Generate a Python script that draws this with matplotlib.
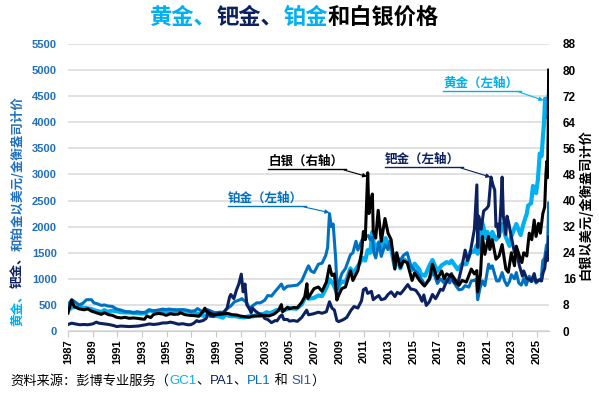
import matplotlib
matplotlib.use('Agg')
import matplotlib.pyplot as plt
from matplotlib.transforms import IdentityTransform
from matplotlib.lines import Line2D
import numpy as np

plt.rcParams['font.family'] = ['Liberation Sans', 'Noto Sans CJK SC', 'DejaVu Sans']

#%% data
gold_t = [1987.0, 1987.3, 1987.9, 1988.2, 1988.5, 1988.9, 1989.3, 1989.7, 1989.95, 1990.2, 1990.6, 1990.9,
          1991.3, 1991.7, 1992.0, 1992.5, 1992.9, 1993.3, 1993.6, 1993.9, 1994.3, 1994.7, 1995.0, 1995.5,
          1996.0, 1996.3, 1996.8, 1997.2, 1997.6, 1997.95, 1998.3, 1998.7, 1999.2, 1999.55, 1999.8, 2000.1,
          2000.5, 2000.9, 2001.3, 2001.7, 2002.0, 2002.4, 2002.9, 2003.1, 2003.4, 2003.9, 2004.3, 2004.5,
          2004.95, 2005.5, 2005.95, 2006.35, 2006.5, 2006.9, 2007.3, 2007.6, 2007.95, 2008.2, 2008.5, 2008.8,
          2009.0, 2009.2, 2009.5, 2009.9, 2010.1, 2010.5, 2010.9, 2011.1, 2011.3, 2011.5, 2011.68, 2011.8,
          2011.95, 2012.2, 2012.4, 2012.75, 2012.95, 2013.2, 2013.5, 2013.7, 2013.95, 2014.2, 2014.5, 2014.9,
          2015.1, 2015.5, 2015.6, 2015.95, 2016.3, 2016.55, 2016.95, 2017.3, 2017.7, 2017.95, 2018.1, 2018.6,
          2018.95, 2019.3, 2019.6, 2019.95, 2020.15, 2020.22, 2020.5, 2020.6, 2020.9, 2021.0, 2021.2, 2021.4,
          2021.7, 2021.95, 2022.2, 2022.5, 2022.8, 2022.95, 2023.35, 2023.7, 2023.95, 2024.2, 2024.3, 2024.55,
          2024.7, 2024.95, 2025.1, 2025.25, 2025.4, 2025.5, 2025.6, 2025.68, 2025.75, 2025.85, 2025.97]
gold_v = [405, 450, 480, 445, 440, 420, 385, 365, 400, 370, 390, 380,
          360, 355, 355, 345, 335, 340, 400, 375, 385, 390, 380, 385,
          400, 395, 380, 350, 325, 290, 300, 290, 285, 255, 320, 285,
          285, 270, 260, 285, 280, 315, 330, 360, 340, 400, 410, 395,
          440, 425, 510, 700, 620, 630, 680, 670, 830, 990, 900, 740,
          880, 950, 930, 1200, 1100, 1240, 1400, 1350, 1550, 1500, 1900, 1650,
          1580, 1700, 1570, 1780, 1660, 1580, 1220, 1400, 1200, 1380, 1320, 1170,
          1290, 1170, 1090, 1060, 1250, 1360, 1150, 1260, 1320, 1300, 1350, 1180,
          1280, 1280, 1510, 1520, 1650, 1480, 1780, 2070, 1780, 1900, 1700, 1900,
          1750, 1830, 2050, 1800, 1630, 1820, 2050, 1840, 2070, 2250, 2400, 2450,
          2780, 2640, 2900, 3400, 3350, 3700, 4000, 4450, 4100, 4250, 4500]

plat_t = [1987.0, 1987.3, 1987.5, 1987.9, 1988.2, 1988.5, 1988.9, 1989.1, 1989.4, 1989.7, 1989.95, 1990.2,
          1990.6, 1990.95, 1991.3, 1991.7, 1991.95, 1992.3, 1992.6, 1992.95, 1993.3, 1993.5, 1993.95, 1994.3,
          1994.7, 1994.95, 1995.2, 1995.5, 1995.95, 1996.3, 1996.7, 1996.95, 1997.3, 1997.5, 1997.95, 1998.3,
          1998.5, 1998.9, 1999.3, 1999.6, 1999.95, 2000.2, 2000.5, 2000.95, 2001.1, 2001.5, 2001.7, 2001.95,
          2002.3, 2002.6, 2002.95, 2003.2, 2003.5, 2003.8, 2003.95, 2004.3, 2004.5, 2004.8, 2004.95, 2005.3,
          2005.6, 2005.95, 2006.3, 2006.5, 2006.7, 2006.95, 2007.3, 2007.6, 2007.9, 2008.05, 2008.2, 2008.35,
          2008.5, 2008.7, 2008.82, 2008.95, 2009.2, 2009.5, 2009.9, 2010.1, 2010.35, 2010.5, 2010.85, 2010.95,
          2011.1, 2011.35, 2011.5, 2011.68, 2011.8, 2011.95, 2012.2, 2012.4, 2012.7, 2012.95, 2013.1, 2013.4,
          2013.6, 2013.95, 2014.2, 2014.5, 2014.8, 2014.95, 2015.2, 2015.5, 2015.75, 2015.95, 2016.3, 2016.6,
          2016.95, 2017.2, 2017.5, 2017.7, 2017.95, 2018.1, 2018.5, 2018.7, 2018.95, 2019.2, 2019.5, 2019.7,
          2019.95, 2020.1, 2020.22, 2020.4, 2020.6, 2020.8, 2020.95, 2021.1, 2021.25, 2021.4, 2021.6, 2021.75,
          2021.95, 2022.2, 2022.4, 2022.6, 2022.8, 2022.95, 2023.2, 2023.35, 2023.55, 2023.75, 2023.95, 2024.15,
          2024.4, 2024.6, 2024.8, 2024.95, 2025.2, 2025.35, 2025.5, 2025.65, 2025.8, 2025.88, 2025.97]
plat_v = [500, 600, 570, 500, 530, 600, 600, 540, 520, 490, 500, 480,
          470, 420, 400, 370, 370, 350, 370, 355, 360, 400, 390, 400,
          420, 410, 420, 410, 400, 410, 395, 375, 390, 430, 360, 410,
          390, 350, 360, 360, 440, 480, 560, 600, 620, 540, 430, 480,
          540, 540, 590, 680, 670, 760, 800, 900, 800, 860, 860, 870,
          880, 960, 1150, 1250, 1150, 1120, 1280, 1300, 1450, 1600, 2250, 2000,
          2050, 1400, 800, 920, 1100, 1200, 1460, 1500, 1720, 1550, 1750, 1750,
          1800, 1830, 1750, 1800, 1500, 1400, 1690, 1430, 1650, 1560, 1720, 1450,
          1400, 1360, 1450, 1500, 1250, 1200, 1150, 1050, 960, 880, 980, 1150,
          910, 1000, 920, 990, 920, 1010, 850, 790, 800, 870, 840, 960,
          970, 990, 600, 820, 960, 870, 1070, 1280, 1200, 1250, 1080, 960,
          960, 1120, 960, 870, 950, 1080, 1000, 1120, 920, 880, 1000, 880,
          1050, 950, 1000, 920, 980, 960, 1350, 1400, 1650, 1500, 2450]

pall_t = [1987.0, 1987.3, 1987.6, 1987.95, 1988.3, 1988.6, 1989.0, 1989.3, 1989.5, 1989.95, 1990.3, 1990.7,
          1990.95, 1991.3, 1991.7, 1991.95, 1992.3, 1992.7, 1992.95, 1993.3, 1993.6, 1993.95, 1994.3, 1994.7,
          1995.0, 1995.3, 1995.6, 1995.95, 1996.3, 1996.7, 1996.95, 1997.2, 1997.45, 1997.6, 1997.95, 1998.2,
          1998.4, 1998.55, 1998.8, 1998.95, 1999.3, 1999.6, 1999.9, 2000.1, 2000.2, 2000.45, 2000.65, 2000.85,
          2001.05, 2001.2, 2001.35, 2001.5, 2001.7, 2001.85, 2001.95, 2002.2, 2002.5, 2002.8, 2002.95, 2003.2,
          2003.5, 2003.8, 2003.95, 2004.2, 2004.35, 2004.5, 2004.8, 2004.95, 2005.3, 2005.6, 2005.95, 2006.35,
          2006.5, 2006.9, 2007.3, 2007.6, 2007.95, 2008.2, 2008.4, 2008.6, 2008.8, 2008.95, 2009.3, 2009.6,
          2009.95, 2010.2, 2010.5, 2010.8, 2010.95, 2011.15, 2011.3, 2011.6, 2011.75, 2011.95, 2012.2, 2012.4,
          2012.7, 2012.95, 2013.2, 2013.5, 2013.7, 2013.95, 2014.2, 2014.55, 2014.8, 2014.95, 2015.2, 2015.5,
          2015.7, 2015.85, 2016.05, 2016.3, 2016.55, 2016.8, 2016.95, 2017.2, 2017.4, 2017.6, 2017.8, 2017.95,
          2018.1, 2018.3, 2018.6, 2018.8, 2018.95, 2019.2, 2019.4, 2019.6, 2019.8, 2019.95, 2020.1, 2020.15,
          2020.22, 2020.3, 2020.5, 2020.7, 2020.95, 2021.1, 2021.3, 2021.45, 2021.6, 2021.7, 2021.8, 2021.95,
          2022.1, 2022.2, 2022.3, 2022.5, 2022.6, 2022.75, 2022.95, 2023.2, 2023.35, 2023.6, 2023.85, 2023.95,
          2024.2, 2024.4, 2024.55, 2024.8, 2024.95, 2025.2, 2025.4, 2025.5, 2025.65, 2025.8, 2025.88, 2025.97]
pall_v = [125, 150, 135, 120, 125, 120, 135, 170, 150, 135, 125, 105,
          85, 95, 90, 85, 90, 95, 105, 120, 135, 125, 135, 155,
          155, 170, 155, 130, 140, 120, 120, 150, 200, 180, 200, 240,
          380, 290, 280, 320, 340, 340, 440, 650, 700, 620, 780, 900,
          1090, 750, 900, 500, 430, 350, 440, 380, 330, 300, 240, 220,
          160, 200, 195, 280, 310, 220, 220, 190, 200, 185, 260, 400,
          310, 330, 360, 340, 370, 560, 440, 400, 200, 180, 215, 260,
          400, 470, 440, 580, 790, 820, 720, 760, 600, 640, 680, 600,
          620, 700, 750, 660, 740, 710, 780, 890, 800, 800, 780, 680,
          570, 690, 490, 560, 700, 620, 680, 800, 780, 900, 980, 1050,
          1100, 930, 900, 1100, 1250, 1550, 1350, 1480, 1750, 1950, 2600, 2800,
          1600, 2200, 1950, 2300, 2350, 2400, 2950, 2800, 2700, 2000, 2050, 1800,
          2400, 2950, 2200, 1850, 2200, 2050, 1800, 1500, 1550, 1250, 1050, 1150,
          1000, 1000, 950, 1100, 940, 980, 960, 1100, 1200, 1500, 1350, 1800]

silv_t = [1987.0, 1987.3, 1987.5, 1987.9, 1988.3, 1988.6, 1988.9, 1989.3, 1989.7, 1989.95, 1990.3, 1990.6,
          1990.95, 1991.3, 1991.6, 1991.95, 1992.3, 1992.6, 1992.95, 1993.2, 1993.4, 1993.7, 1993.95, 1994.3,
          1994.7, 1994.95, 1995.3, 1995.6, 1995.95, 1996.1, 1996.5, 1996.9, 1997.3, 1997.6, 1997.9, 1998.1,
          1998.3, 1998.7, 1998.95, 1999.3, 1999.7, 1999.95, 2000.3, 2000.7, 2000.95, 2001.3, 2001.7, 2001.95,
          2002.3, 2002.6, 2002.95, 2003.3, 2003.7, 2003.95, 2004.1, 2004.3, 2004.4, 2004.8, 2004.95, 2005.3,
          2005.6, 2005.95, 2006.2, 2006.37, 2006.45, 2006.7, 2006.95, 2007.3, 2007.6, 2007.95, 2008.2, 2008.4,
          2008.6, 2008.8, 2008.95, 2009.2, 2009.5, 2009.9, 2010.1, 2010.5, 2010.8, 2010.95, 2011.1, 2011.3,
          2011.4, 2011.55, 2011.68, 2011.75, 2011.95, 2012.15, 2012.4, 2012.7, 2012.95, 2013.2, 2013.5, 2013.65,
          2013.95, 2014.2, 2014.5, 2014.9, 2015.1, 2015.5, 2015.9, 2016.3, 2016.55, 2016.95, 2017.3, 2017.5,
          2017.7, 2017.95, 2018.2, 2018.7, 2018.95, 2019.3, 2019.7, 2019.95, 2020.15, 2020.22, 2020.45, 2020.6,
          2020.8, 2021.1, 2021.2, 2021.4, 2021.7, 2021.95, 2022.2, 2022.5, 2022.7, 2022.95, 2023.2, 2023.35,
          2023.6, 2023.8, 2023.95, 2024.2, 2024.4, 2024.6, 2024.8, 2024.95, 2025.15, 2025.3, 2025.5, 2025.65,
          2025.75, 2025.82, 2025.88, 2025.93, 2025.97]
silv_v = [5.5, 9.5, 7.5, 6.8, 6.5, 6.8, 6.1, 5.6, 5.1, 5.6, 5.0, 4.8,
          4.2, 4.0, 4.2, 3.9, 4.0, 3.9, 3.7, 3.6, 4.6, 4.1, 5.1, 5.4,
          5.2, 4.8, 5.3, 5.1, 5.2, 5.6, 5.0, 4.8, 4.7, 4.5, 5.8, 7.0,
          5.6, 5.2, 5.0, 5.1, 5.3, 5.4, 5.0, 4.9, 4.6, 4.4, 4.2, 4.6,
          4.6, 4.6, 4.8, 4.6, 5.2, 5.9, 6.6, 8.1, 5.9, 7.3, 6.8, 7.2,
          7.1, 8.8, 10.5, 14.5, 10.0, 11.5, 13.0, 13.5, 12.2, 15.0, 20.0, 17.0,
          17.5, 9.5, 11.0, 13.0, 13.5, 18.5, 15.5, 18.5, 24.0, 30.5, 28.0, 48.5,
          36.0, 40.0, 42.0, 30.5, 28.5, 37.0, 27.5, 34.5, 30.0, 28.0, 19.0, 24.0,
          19.5, 21.5, 21.0, 15.5, 17.8, 15.5, 13.8, 16.0, 20.5, 16.0, 18.4, 16.0,
          17.5, 17.0, 16.8, 14.0, 15.5, 15.0, 19.0, 17.5, 18.5, 12.0, 17.5, 29.0,
          23.5, 29.0, 25.0, 28.0, 22.0, 23.0, 26.5, 19.0, 18.0, 24.0, 20.0, 26.0,
          23.0, 21.0, 24.0, 23.0, 30.0, 28.0, 34.0, 29.0, 33.0, 30.0, 36.0, 38.0,
          48.0, 52.0, 47.0, 60.0, 80.0]

year_ticks = list(range(1987, 2026, 2))
left_ticks = list(range(0, 5501, 500))
right_ticks = list(range(0, 89, 8))

c_gold = '#00b0f0'
c_plat = '#0070c0'
c_pall = '#0b2160'
c_silv = '#000000'

#%% figure
fig = plt.figure(figsize=(5.99, 3.93), dpi=100)
ax = fig.add_axes([68/599, 62/393, 481/599, 287/393])
ax2 = ax.twinx()

ax.plot(gold_t, gold_v, color=c_gold, lw=3.0, zorder=2)
ax.plot(plat_t, plat_v, color=c_plat, lw=2.2, zorder=3)
ax.plot(pall_t, pall_v, color=c_pall, lw=2.2, zorder=4)
ax2.plot(silv_t, silv_v, color=c_silv, lw=2.2)

ax.set_xlim(1987, 2026)
ax.set_ylim(0, 5500)
ax2.set_ylim(0, 88)
ax.set_xticks(year_ticks)
ax.set_xticklabels([str(y) for y in year_ticks], rotation=90, fontsize=8, fontweight='bold')
ax.set_yticks(left_ticks)
ax.set_yticklabels([str(v) for v in left_ticks], fontsize=8, fontweight='bold', color='#1f6fc0')
ax2.set_yticks(right_ticks)
ax2.set_yticklabels([str(v) for v in right_ticks], fontsize=8.5, fontweight='bold', color='black')

ax.grid(axis='y', color='#dcdcdc', lw=1.2)
ax.set_axisbelow(True)
for a in (ax, ax2):
    for s in ('top', 'left', 'right'):
        a.spines[s].set_visible(False)
    a.spines['bottom'].set_color('#d0d0d0')
ax.tick_params(axis='y', length=0, pad=8)
ax2.tick_params(axis='y', length=0, pad=10)
ax.tick_params(axis='x', length=4, color='#c8c8c8', pad=2)

#%% text helpers (figure pixel coords, y from bottom)
fig.canvas.draw()
renderer = fig.canvas.get_renderer()
H = 393

def parts_text(x, y, parts, rotation=0, **kw):
    for s, c in parts:
        if rotation == 0:
            t = fig.text(x, y, s, color=c, ha='left', va='center', transform=IdentityTransform(), **kw)
            x = t.get_window_extent(renderer).x1
        else:
            t = fig.text(x, y, s, color=c, ha='center', va='bottom', rotation=90,
                         transform=IdentityTransform(), **kw)
            y = t.get_window_extent(renderer).y1

cjk = ['Noto Sans CJK SC', 'DejaVu Sans']
parts_text(150, H - 17, [('黄金、', c_gold), ('钯金、', c_pall), ('铂金', c_gold), ('和白银价格', 'black')],
           fontsize=16, fontweight='bold', family=cjk)
parts_text(18, H - 326, [('黄金、', c_gold), ('钯金、', c_pall), ('和铂金以美元/金衡盎司计价', '#1f6fc0')],
           rotation=90, fontsize=9, fontweight='bold', family=cjk)
fig.text(585, H - 205, '白银以美元/金衡盎司计价', rotation=90, ha='center', va='center',
         fontsize=9.5, fontweight='bold', family=cjk, transform=IdentityTransform())
parts_text(10, H - 381, [('资料来源：彭博专业服务（', 'black'), ('GC1', c_gold), ('、', 'black'),
                         ('PA1', c_pall), ('、', 'black'), ('PL1', c_plat), (' 和 ', 'black'),
                         ('SI1', '#2f5597'), ('）', 'black')],
           fontsize=9.5, family=['Liberation Sans', 'Noto Sans CJK SC'])

def label(x, y, s, c, tip):
    t = fig.text(x, y, s, color=c, ha='left', va='bottom', fontsize=9, fontweight='bold',
                 family=cjk, transform=IdentityTransform())
    bb = t.get_window_extent(renderer)
    fig.add_artist(Line2D([bb.x0, bb.x1 + 3], [y - 1, y - 1], color=c, lw=1.0,
                          transform=IdentityTransform()))
    ax.annotate('', xy=tip, xytext=(bb.x1 + 1, y - 2), textcoords='figure pixels',
                arrowprops=dict(arrowstyle='-|>', color=c, lw=0.8, mutation_scale=6,
                                shrinkA=0, shrinkB=0))

label(443, H - 90, '黄金（左轴）', c_gold, (2025.55, 4420))
label(385, H - 166, '钯金（左轴）', c_pall, (2021.25, 2950))
label(268, H - 168, '白银（右轴）', 'black', (2011.25, 2960))
label(228, H - 205, '铂金（左轴）', c_plat, (2008.2, 2270))

fig.savefig('out.png', dpi=100)
